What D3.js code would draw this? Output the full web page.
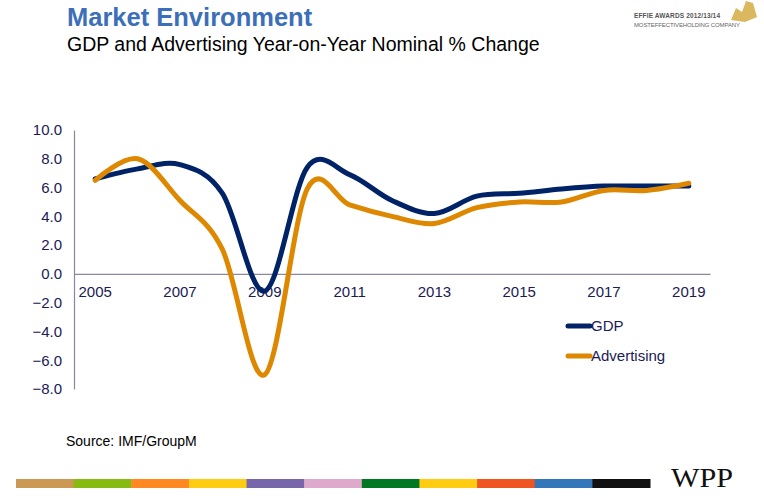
<!DOCTYPE html>
<html><head><meta charset="utf-8">
<script src="https://cdn.jsdelivr.net/npm/d3@7"></script>
<style>body{margin:0;background:#fff}svg{display:block}</style>
</head><body><svg id="c" width="764" height="498"></svg>
<script>
const years = [2005,2006,2007,2008,2009,2010,2011,2012,2013,2014,2015,2016,2017,2018,2019];
const yearLabels = [2005,2007,2009,2011,2013,2015,2017,2019];
const gdp = [6.6,7.3,7.6,5.6,-1.2,7.4,6.9,5.1,4.2,5.4,5.6,5.9,6.1,6.1,6.1];
const advertising = [6.5,8.0,5.1,1.7,-7.0,5.9,4.8,4.0,3.5,4.6,5.0,5.0,5.8,5.8,6.3];
const yTicks = [10,8,6,4,2,0,-2,-4,-6,-8];
const seriesNames = ["GDP","Advertising"];
const seriesColors = ["#002266","#dd8800"];
const barColors = ["#cc9955","#88bb11","#ff8822","#ffcc11","#7766aa","#ddaacc","#007722","#ffcc11","#ee5522","#3377bb","#111111"];

const svg = d3.select("#c");
const font = "Liberation Sans, Arial, sans-serif";
const txt = "#1a1a55";

svg.append("text").attr("x",67).attr("y",26).attr("font-family",font).attr("font-weight","bold")
  .attr("font-size",25.5).attr("fill","#3d6fb8").text("Market Environment");
svg.append("text").attr("x",67).attr("y",51).attr("font-family",font)
  .attr("font-size",19.5).attr("fill","#000").text("GDP and Advertising Year-on-Year Nominal % Change");

// logo
const lg = svg.append("g");
lg.append("path").attr("d","M731,20 L736,8 L742,12 L746,1 L753,3 L757,17 L745,22 Z").attr("fill","#d9b860");
lg.append("text").attr("x",634).attr("y",18).attr("font-family",font).attr("font-size",6.5).attr("font-weight","bold").attr("fill","#555").attr("textLength",86).text("EFFIE AWARDS 2012/13/14");
lg.append("text").attr("x",634).attr("y",27).attr("font-family",font).attr("font-size",6).attr("fill","#666").attr("textLength",106).text("MOSTEFFECTIVEHOLDING COMPANY");

const x = d3.scaleBand().domain(years).range([74,710]);
const y = d3.scaleLinear().domain([-8,10]).range([389,130]);
const xc = d => x(d) + x.bandwidth()/2;

// axes
const yAxis = svg.append("g").attr("transform","translate(74,0)")
  .call(d3.axisLeft(y).tickValues(yTicks).tickSize(0).tickPadding(12).tickFormat(d3.format(".1f")));
yAxis.select(".domain").attr("stroke","#8888a0").attr("stroke-width",1.2);
yAxis.selectAll("text").attr("font-family",font).attr("font-size",15).attr("fill",txt);

const xAxis = svg.append("g").attr("transform",`translate(0,${y(0)})`)
  .call(d3.axisBottom(x).tickValues(yearLabels).tickSize(0).tickPadding(12).tickFormat(d3.format("d")));
xAxis.select(".domain").attr("stroke","#8888a0").attr("stroke-width",1.2);
xAxis.selectAll("text").attr("font-family",font).attr("font-size",15).attr("fill",txt);

const line = d3.line().x((d,i)=>xc(years[i])).y(d=>y(d)).curve(d3.curveCatmullRom.alpha(0));
[gdp, advertising].forEach((s,i)=>{
  svg.append("path").datum(s).attr("d",line).attr("fill","none")
    .attr("stroke",seriesColors[i]).attr("stroke-width",5).attr("stroke-linecap","round");
});
// legend
seriesNames.forEach((n,i)=>{
  const ly = 326 + i*30;
  svg.append("line").attr("x1",568).attr("x2",590).attr("y1",ly).attr("y2",ly)
    .attr("stroke",seriesColors[i]).attr("stroke-width",5).attr("stroke-linecap","round");
  svg.append("text").attr("x",591).attr("y",ly+5).attr("font-family",font).attr("font-size",15).attr("fill",txt).text(n);
});

svg.append("text").attr("x",66).attr("y",446).attr("font-family",font).attr("font-size",14).attr("fill","#000").text("Source: IMF/GroupM");

const bx = d3.scaleBand().domain(d3.range(barColors.length)).range([16,650]);
svg.selectAll("rect.cb").data(barColors).join("rect").attr("class","cb")
  .attr("x",(d,i)=>bx(i)).attr("y",479).attr("width",bx.bandwidth()+0.5).attr("height",9).attr("fill",d=>d);
svg.append("text").attr("x",671).attr("y",487).attr("font-family","Liberation Serif, Times New Roman, serif")
  .attr("font-size",28).attr("fill","#111").attr("textLength",62).attr("lengthAdjust","spacingAndGlyphs").text("WPP");
</script></body></html>
